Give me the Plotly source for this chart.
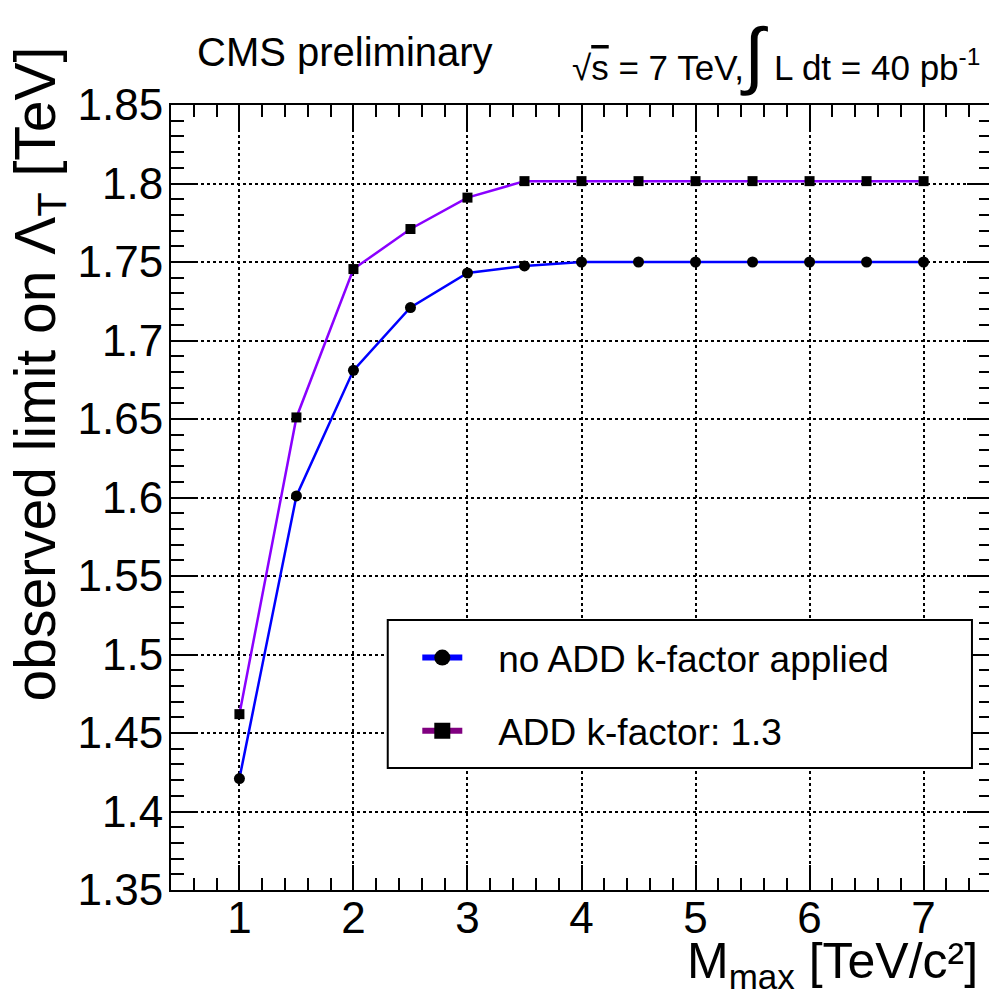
import plotly.graph_objects as go

# Data
m_max = [1, 1.5, 2, 2.5, 3, 3.5, 4, 4.5, 5, 5.5, 6, 6.5, 7]
limit_no_k = [1.421, 1.601, 1.681, 1.721, 1.743, 1.7475, 1.750, 1.750, 1.750, 1.750, 1.750, 1.750, 1.750]
limit_k13 = [1.462, 1.651, 1.7455, 1.771, 1.791, 1.8015, 1.8015, 1.8015, 1.8015, 1.8015, 1.8015, 1.8015, 1.8015]

x_tickvals = [1, 2, 3, 4, 5, 6, 7]
x_ticktext = ["1", "2", "3", "4", "5", "6", "7"]
y_tickvals = [1.35, 1.4, 1.45, 1.5, 1.55, 1.6, 1.65, 1.7, 1.75, 1.8, 1.85]
y_ticktext = ["1.35", "1.4", "1.45", "1.5", "1.55", "1.6", "1.65", "1.7", "1.75", "1.8", "1.85"]

FONT = "Liberation Sans, Arial, sans-serif"
NBSP = "\u00a0\u00a0\u00a0"  # gap between legend symbol and text

fig = go.Figure()

# plotted curves
fig.add_trace(go.Scatter(
    x=m_max, y=limit_no_k, mode="lines+markers", showlegend=False,
    line=dict(color="#0000ff", width=2.5),
    marker=dict(symbol="circle", size=11, color="black"),
))
fig.add_trace(go.Scatter(
    x=m_max, y=limit_k13, mode="lines+markers", showlegend=False,
    line=dict(color="#8a00ff", width=2.5),
    marker=dict(symbol="square", size=10, color="black"),
))

# legend entries (thicker lines, bigger markers, like the ROOT legend)
fig.add_trace(go.Scatter(
    x=[None], y=[None], mode="lines+markers", name=NBSP + "no ADD k-factor applied",
    legendgroup="a", line=dict(color="#0000ff", width=6),
    marker=dict(symbol="circle", size=20, color="black"),
))
fig.add_trace(go.Scatter(
    x=[None], y=[None], mode="lines+markers", name=NBSP + "ADD k-factor: 1.3",
    legendgroup="b", line=dict(color="#800080", width=6),
    marker=dict(symbol="square", size=19, color="black"),
))

axis_common = dict(
    showline=True, linecolor="black", linewidth=2, mirror="allticks",
    ticks="inside", ticklen=25, tickwidth=2, tickcolor="black",
    showgrid=True, gridcolor="black", gridwidth=1.5, griddash="3px,3px",
    zeroline=False, tickfont=dict(family=FONT, size=44, color="black"),
)

fig.update_xaxes(
    range=[0.4, 7.6], tickmode="array", tickvals=x_tickvals, ticktext=x_ticktext,
    minor=dict(dtick=0.2, tick0=0.4, ticklen=12, tickwidth=2, tickcolor="black",
               ticks="inside", showgrid=False),
    ticklabelstandoff=-12, **axis_common,
)
fig.update_yaxes(
    range=[1.35, 1.85], tickmode="array", tickvals=y_tickvals, ticktext=y_ticktext,
    minor=dict(dtick=0.01, tick0=1.35, ticklen=13, tickwidth=2, tickcolor="black",
               ticks="inside", showgrid=False),
    ticklabelstandoff=-3, **axis_common,
)

# legend box
fig.add_shape(type="rect", xref="paper", yref="paper",
              x0=0.264, x1=0.9756, y0=0.1554, y1=0.344,
              line=dict(color="black", width=2), fillcolor="white", layer="above")

fig.update_layout(
    width=997, height=1000,
    margin=dict(l=163, r=13, t=97, b=118),
    paper_bgcolor="white", plot_bgcolor="white",
    font=dict(family=FONT, color="black"),
    legend=dict(
        x=0.3, y=0.335, xanchor="left", yanchor="top",
        bgcolor="rgba(0,0,0,0)", borderwidth=0,
        font=dict(family=FONT, size=37, color="black"),
        tracegroupgap=22, itemwidth=40,
    ),
    annotations=[
        dict(text="CMS preliminary", xref="paper", yref="paper",
             x=(345 - 171) / 821, y=(890 - 52) / 785, xanchor="center", yanchor="middle",
             showarrow=False, font=dict(family=FONT, size=40)),
        dict(text="√<span style='text-decoration:overline'>s</span> = 7 TeV,"
                  "<span style='font-size:74px'>∫</span> L dt = 40 pb<sup>-1</sup>",
             xref="paper", yref="paper",
             x=(982 - 171) / 821, y=(890 - 54) / 785, xanchor="right", yanchor="middle",
             showarrow=False, font=dict(family=FONT, size=35)),
        dict(text="observed limit on Λ<sub>T</sub> [TeV]", xref="paper", yref="paper",
             x=(38 - 171) / 821, y=(890 - 45) / 785, xanchor="center", yanchor="top",
             textangle=-90, showarrow=False, font=dict(family=FONT, size=57)),
        dict(text="M<sub>max</sub> [TeV/c²]", xref="paper", yref="paper",
             x=(980 - 171) / 821, y=(890 - 964) / 785, xanchor="right", yanchor="middle",
             showarrow=False, font=dict(family=FONT, size=50)),
    ],
)

fig.write_html("out.html")
